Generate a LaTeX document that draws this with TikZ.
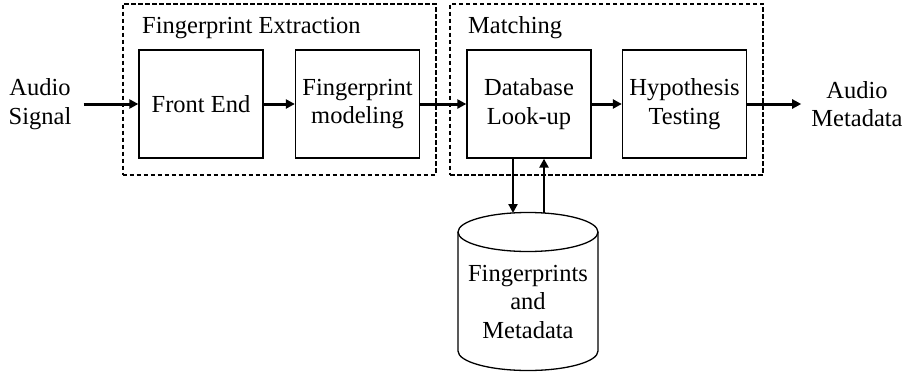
\documentclass[tikz,border=0pt]{standalone}
\usepackage{fontspec}
\setmainfont{Liberation Serif}
\usetikzlibrary{arrows.meta}
\newcommand{\fsz}{\fontsize{24.5}{28.5}\selectfont}
\begin{document}
\begin{tikzpicture}[x=1pt,y=-1pt,
  blk/.style={draw, line width=1.3pt, minimum width=124pt, minimum height=108pt, align=center, inner sep=0pt, font=\fsz},
  grp/.style={draw, line width=2pt, dash pattern=on 4.5pt off 2.5pt, minimum width=313pt, minimum height=171pt, inner sep=0pt},
  arr/.style={line width=3pt, -{Triangle[length=9pt,width=9pt]}},
  varr/.style={line width=2.4pt, -{Triangle[length=9pt,width=9pt]}},
  lbl/.style={align=center, font=\fsz, inner ysep=0pt},
  cyl/.style={line width=1.3pt}]
\useasboundingbox (0,0) rectangle (905,372);
% groups
\node[grp] (g1) at (279,89) {};
\node[grp] (g2) at (606.5,89) {};
\node[lbl, anchor=base west, inner sep=0pt] (t1) at (142,33) {Fingerprint Extraction};
\node[lbl, anchor=base west, inner sep=0pt] (t2) at (468,33) {Matching};
% blocks
\node[blk] (fe) at (201,104) {Front End};
\node[blk] (fm) at (357.5,104) {Fingerprint\\modeling};
\node[blk] (dbl) at (529,104) {Database\\Look-up};
\node[blk] (ht) at (684.5,104) {Hypothesis\\Testing};
% io labels
\node[lbl, inner xsep=12pt] (sig) at (40,104) {Audio\\Signal};
\node[lbl, inner xsep=10pt] (meta) at (857,104) {Audio\\Metadata};
% cylinder
\draw[cyl] (458,232) -- (458,351) arc[start angle=180, end angle=360, x radius=70pt, y radius=19.5pt] -- (598,232);
\draw[cyl] (528,232) ellipse [x radius=70pt, y radius=19.5pt];
\node[lbl] (db) at (528,302) {Fingerprints\\and\\Metadata};
\coordinate (cylL) at (513,213);
\coordinate (cylR) at (544,213);
% arrows
\draw[arr] (sig.east) -- (fe.west);
\draw[arr] (fe.east) -- (fm.west);
\draw[arr] (fm.east) -- (dbl.west);
\draw[arr] (dbl.east) -- (ht.west);
\draw[arr] (ht.east) -- (meta.west);
\draw[varr] (dbl.south -| cylL) -- (cylL);
\draw[varr] (cylR) -- (dbl.south -| cylR);
\end{tikzpicture}
\end{document}
